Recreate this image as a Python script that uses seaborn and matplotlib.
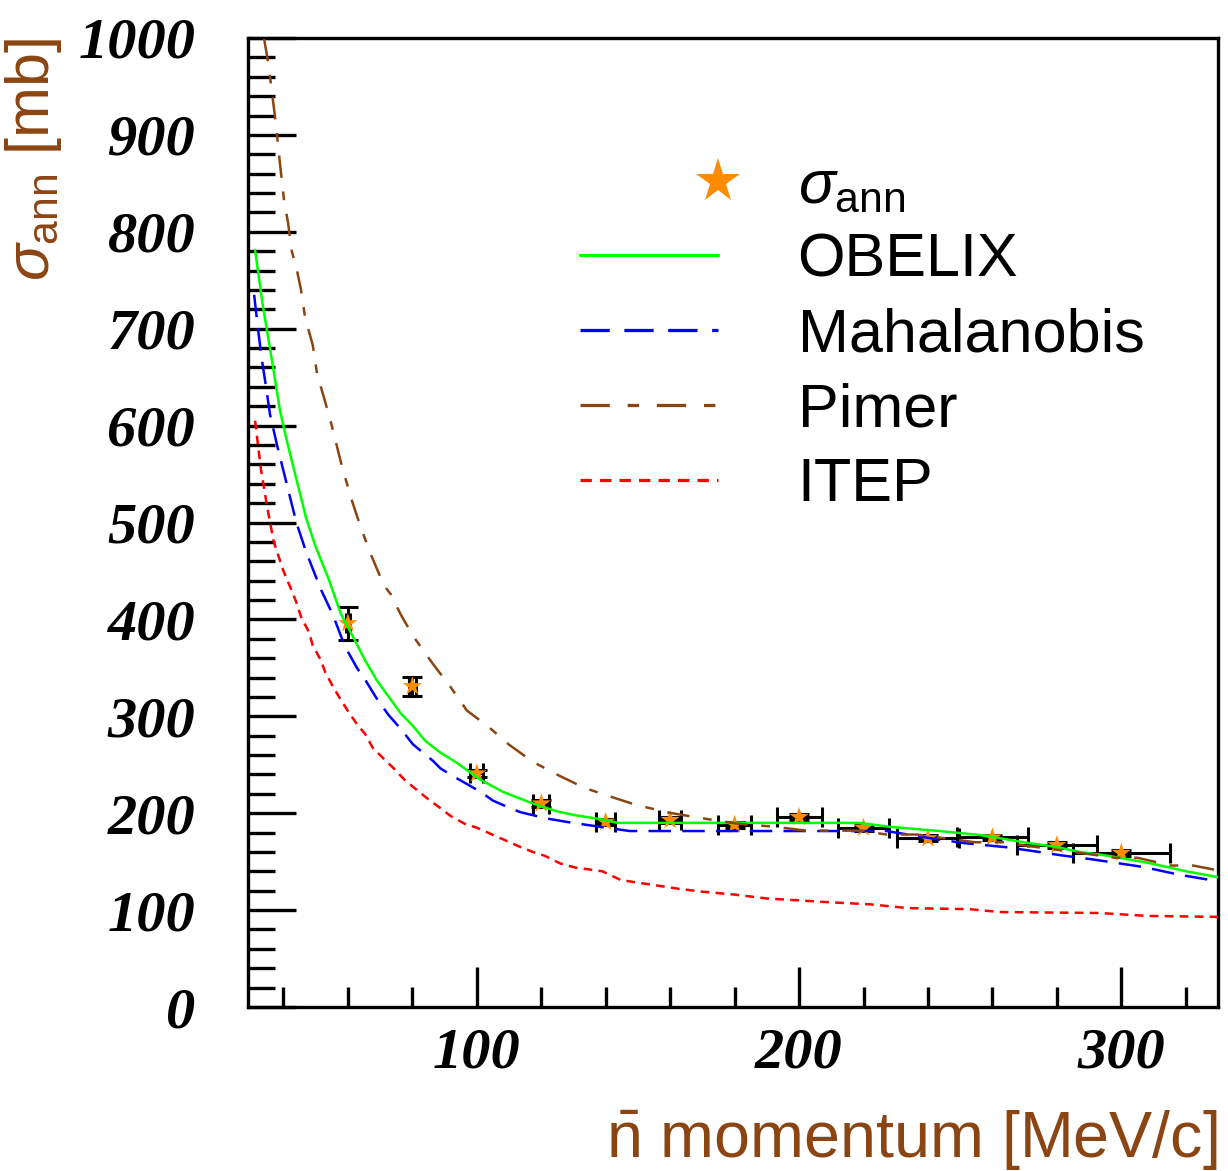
import numpy as np
import seaborn as sns
import matplotlib
matplotlib.use("Agg")
import matplotlib.pyplot as plt
from matplotlib.lines import Line2D
from matplotlib.ticker import MultipleLocator
from matplotlib.legend_handler import HandlerLine2DCompound

# ---------------- data ----------------
obelix_p = [31.2, 33.6, 36.4, 38.9, 41.0, 44.0, 47.0, 50.0, 54.1, 57.8, 61.6, 65.3, 69.0,
            72.7, 76.4, 80.2, 83.9, 88.5, 93.8, 100.9, 108.1, 117.4, 121.1, 124.8,
            130.4, 138.1, 143.7, 218.8, 228.0, 243.6, 256.0, 263.7, 271.5, 280.2,
            287.0, 295.0, 301.9, 308.7, 314.9, 320.2, 326.7, 330.0]
obelix_s = [781, 724, 668, 616, 585, 545, 505, 475, 441, 406, 382, 358, 337,
            320, 303, 290, 275, 263, 252, 235, 222, 210, 206, 202,
            198, 194, 190, 190, 186, 181.6, 177.5, 173.4, 169, 165,
            160, 156.5, 152.5, 148.5, 144, 140, 136, 134]

mahal_p = [30.9, 32.1, 33.3, 34.6, 35.8, 38.0, 41.0, 44.0, 47.0, 51.6, 55.3, 59.1, 62.8,
           65.3, 69.0, 72.7, 76.4, 80.2, 86.4, 88.8, 93.8, 101.2, 105.0, 110.5,
           113.6, 118.6, 122.6, 129.8, 138.8, 147.4, 227.1, 243.0, 251.6, 264.0,
           273.3, 281.4, 290.7, 298.8, 306.8, 318.0, 326.0, 330.0]
mahal_s = [735, 700, 668, 640, 612, 580, 540, 500, 470, 431, 405, 372, 350,
           338, 318, 301, 287, 271, 254, 246, 236, 222, 213, 205,
           201, 197, 194, 190, 185.7, 181.6, 181.6, 173, 169, 165,
           160.6, 156.5, 152.5, 148.5, 144.5, 136.5, 132, 130]

pimer_p = [34.0, 35.2, 36.4, 37.7, 38.9, 40.2, 41.4, 42.6, 44.2, 45.4, 46.7, 49.1, 50.4,
           52.9, 55.0, 58.0, 61.0, 64.0, 67.0, 71.2, 73.3, 76.4, 80.2, 86.4, 91.9,
           96.9, 103.7, 109.9, 117.4, 125.4, 133.5, 141.6, 149.0, 158.9, 167.6,
           181.2, 192.4, 202.3, 219.0, 227.1, 236.4, 245.4, 254.7, 263.4, 271.5,
           280.8, 289.5, 298.1, 305.0, 315.5, 322.3, 330.0]
pimer_s = [999, 976, 945, 910, 871, 832, 810, 780, 760, 741, 712, 683, 654,
           625, 600, 560, 525, 495, 468, 435, 426, 405, 383, 354, 330,
           306, 289, 271, 253, 239, 226, 217, 209, 201, 196,
           189, 186, 182, 182, 178, 178, 174, 170, 170, 166,
           162, 158, 154, 154, 146, 146, 141]

itep_p = [31.2, 33.0, 35.0, 37.0, 40.0, 42.4, 44.2, 45.4, 47.9, 49.1, 51.6, 52.9, 55.3,
          57.8, 60.3, 62.8, 65.3, 67.8, 71.5, 74.0, 77.7, 85.1, 88.8, 91.9, 96.3,
          100.0, 113.6, 117.4, 121.1, 126.0, 130.4, 139.0, 144.7, 152.7, 162.6,
          170.0, 180.0, 190.0, 200.0, 210.0, 221.9, 234.0, 252.9, 262.2, 293.2,
          308.0, 330.0]
itep_s = [605, 555, 515, 480, 450, 431, 416, 403, 387, 373, 358, 346, 331,
          317, 304, 292, 282, 267, 255, 247, 234, 214, 205, 197, 189,
          185, 165, 160, 156, 148, 144, 140, 131, 127, 122,
          119, 116, 112, 110, 108, 106, 102, 101, 98, 97,
          94, 93]

sigma_p = [60, 80, 100, 120, 140, 160, 180, 200, 220, 240, 260, 280, 300]
sigma_v = [396, 331, 241, 210, 191, 193, 188, 196, 185, 174, 175, 167, 159]
sigma_yerr = [17, 10, 4, 4, 3, 3, 3, 3, 3, 3, 3, 3, 3]
sigma_xerr = [0.5, 1, 2, 2.5, 3, 3.5, 5, 7, 8, 9.5, 11, 12.5, 15]

labels = [r"$\sigma_{\mathrm{ann}}$", "OBELIX", "Mahalanobis", "Pimer", "ITEP"]

# ---------------- style ----------------
sns.set_theme(style="white")
plt.rcParams["font.family"] = ["Liberation Sans", "DejaVu Sans"]
plt.rcParams["mathtext.fontset"] = "custom"
plt.rcParams["mathtext.rm"] = "Liberation Sans"
plt.rcParams["mathtext.it"] = "Liberation Sans:italic"
plt.rcParams["mathtext.bf"] = "Liberation Sans:bold"
plt.rcParams["text.color"] = "black"
plt.rcParams["axes.labelcolor"] = "black"
plt.rcParams["xtick.color"] = "black"
plt.rcParams["ytick.color"] = "black"

BROWN = "#8b4513"
GREEN = "#00ff00"
BLUE = "#0000ff"
RED = "#ff0000"
ORANGE = "#ff8c00"
LW = 1.8

fig = plt.figure(figsize=(12.28, 11.71), dpi=100)
ax = fig.add_axes([248 / 1228, 1 - 1007 / 1171, 970 / 1228, 969 / 1171])

# data points with error bars
ax.errorbar(sigma_p, sigma_v, xerr=sigma_xerr, yerr=sigma_yerr, fmt="none",
            ecolor="black", elinewidth=2.2, capsize=7, capthick=2.2, zorder=2)
sns.scatterplot(x=sigma_p, y=sigma_v, marker="*", s=210, color=ORANGE,
                edgecolor="none", linewidth=0, ax=ax, zorder=2.5, legend=False)

# model curves
sns.lineplot(x=obelix_p, y=obelix_s, ax=ax, color=GREEN, lw=LW, zorder=3,
             errorbar=None)
sns.lineplot(x=mahal_p, y=mahal_s, ax=ax, color=BLUE, lw=LW, zorder=3,
             errorbar=None, linestyle=(0, (9, 4.5)))
sns.lineplot(x=pimer_p, y=pimer_s, ax=ax, color=BROWN, lw=LW, zorder=3,
             errorbar=None, linestyle=(0, (9, 5.5, 3.5, 5.5)))
sns.lineplot(x=itep_p, y=itep_s, ax=ax, color=RED, lw=LW, zorder=3,
             errorbar=None, linestyle=(0, (3.5, 2.5)))

ax.set_xlim(29, 330)
ax.set_ylim(0, 1000)
ax.xaxis.set_major_locator(MultipleLocator(100))
ax.xaxis.set_minor_locator(MultipleLocator(20))
ax.yaxis.set_major_locator(MultipleLocator(100))
ax.yaxis.set_minor_locator(MultipleLocator(20))

for sp in ax.spines.values():
    sp.set_color("black")
    sp.set_linewidth(2.4)

ax.tick_params(axis="both", which="both", direction="in", top=False, right=False,
               bottom=True, left=True, color="black", width=2.4)
ax.tick_params(axis="y", which="major", length=34.5, pad=38)
ax.tick_params(axis="y", which="minor", length=19.5)
ax.tick_params(axis="x", which="major", length=29, pad=15)
ax.tick_params(axis="x", which="minor", length=14.5)
for lab in ax.get_xticklabels() + ax.get_yticklabels():
    lab.set_fontfamily(["Liberation Serif", "DejaVu Serif"])
    lab.set_fontweight("bold")
    lab.set_fontstyle("italic")
    lab.set_fontsize(42)
    lab.set_color("black")

ax.set_xlabel(r"$\bar{\mathrm{n}}$ momentum [MeV/c]", fontsize=46.5, color=BROWN, loc="right")
ax.set_ylabel(r"$\sigma_{\mathrm{ann}}$ [mb]", fontsize=44, color=BROWN, loc="top")
ax.xaxis.set_label_coords(1.0, -0.105)
ax.yaxis.set_label_coords(-0.19, 1.0)


class EndMarker(HandlerLine2DCompound):
    def get_xdata(self, legend, xdescent, ydescent, width, height, fontsize):
        xd, _ = super().get_xdata(legend, xdescent, ydescent, width, height, fontsize)
        return xd, np.array([width - xdescent])


handles = [
    Line2D([], [], marker="*", ls="none", color=ORANGE, markersize=33, mew=0),
    Line2D([], [], color=GREEN, lw=LW * 1.3),
    Line2D([], [], color=BLUE, lw=LW * 1.3, linestyle=(0, (9, 4.5))),
    Line2D([], [], color=BROWN, lw=LW * 1.3, linestyle=(0, (9, 5.5, 3.5, 5.5))),
    Line2D([], [], color=RED, lw=LW * 1.3, linestyle=(0, (3.5, 2.5))),
]
leg = ax.legend(handles, labels, loc="upper left",
                bbox_to_anchor=(580 / 1228, 1 - 158 / 1171),
                bbox_transform=fig.transFigure, frameon=False, fontsize=44,
                handlelength=2.26, handletextpad=1.3, labelspacing=0.29,
                borderpad=0, borderaxespad=0,
                handler_map={handles[0]: EndMarker()})
for t in leg.get_texts():
    t.set_color("black")

fig.savefig("out.png", dpi=100)
